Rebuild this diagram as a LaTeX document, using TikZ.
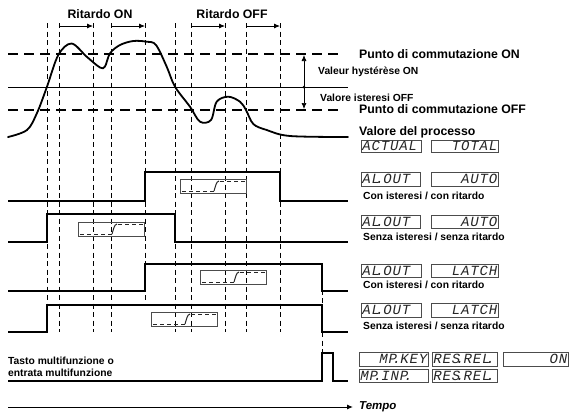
\documentclass[tikz,border=0pt]{standalone}
\usepackage{fontspec}
\setmainfont{Liberation Sans}
\newfontfamily\lcdfont[LetterSpace=6]{Liberation Mono}
\usetikzlibrary{arrows.meta}
\newcommand\lcdtext{\lcdfont\itshape\fontsize{14}{14}\selectfont\color{black!85}}
\newcommand\ld{\kern-0.3em.\kern-0.05em}
\tikzset{
  vdash/.style={line width=0.7pt, dash pattern=on 5pt off 3.5pt},
  hdash/.style={line width=1.1pt, dash pattern=on 10pt off 6pt},
  sig/.style={line width=1.8pt, line join=miter},
  curve/.style={line width=1.8pt, line join=round, line cap=round},
  sbox/.style={draw=gray!60!black, line width=0.7pt, inner sep=0pt, anchor=north west, minimum width=66pt, minimum height=14pt},
  sboxdash/.style={line width=1pt, dash pattern=on 4pt off 3pt, black!85},
  lcdbox/.style={draw=gray!60!black, line width=0.6pt, inner sep=1pt, anchor=north west, font=\lcdtext},
  biglabel/.style={font=\bfseries\fontsize{12.3}{14}\selectfont, inner sep=0pt},
  smalllabel/.style={font=\bfseries\fontsize{10.3}{12}\selectfont, inner sep=0pt},
  timearrow/.style={-{Latex[length=6pt,width=5pt]}, line width=0.8pt},
}
\newcommand\sigbox[3]{%
  \node[sbox] (#1) at (#2,#3) {};
  \draw[sboxdash] (#2+2,#3+12) -- (#2+34,#3+12);
  \draw[line width=1pt, black!85] (#2+34,#3+12) .. controls (#2+36,#3+6) and (#2+36,#3+3) .. (#2+39,#3+2);
  \draw[sboxdash] (#2+40,#3+2) -- (#2+65,#3+2);
}
\newcommand\lcd[7]{% name, x, y, width, height, align, text
  \node[lcdbox, minimum height=#5pt, text width=#4pt, align=#6] (#1) at (#2,#3) {#7};
}
\begin{document}
\begin{tikzpicture}[x=1pt,y=-1pt]
\useasboundingbox (0,0) rectangle (570,413);
\fill[white] (0,0) rectangle (570,413);

% vertical dashed lines
\foreach \x in {47,59,93,111,175,191,225,246,280}
  \draw[vdash] (\x,23) -- (\x,332);
\draw[vdash] (145,23) -- (145,300);
\draw[vdash] (322,264) -- (322,353);

% Ritardo arrows
\node[biglabel] (ron) at (100,14) {Ritardo ON};
\node[biglabel] (roff) at (232,14) {Ritardo OFF};
\coordinate (a1s) at (59,26);  \coordinate (a1e) at (93,26);
\coordinate (a2s) at (111,26); \coordinate (a2e) at (145,26);
\coordinate (a3s) at (191,26); \coordinate (a3e) at (225,26);
\coordinate (a4s) at (246,26); \coordinate (a4e) at (280,26);
\foreach \s/\e in {a1s/a1e,a2s/a2e,a3s/a3e,a4s/a4e}
  \draw[timearrow] (\s) -- (\e);

% threshold lines
\draw[hdash] (8,54) -- (343,54);
\draw[line width=0.9pt] (8,87) -- (348,87);
\draw[hdash] (8,110) -- (343,110);

% hysteresis arrow
\coordinate (htop) at (304,55);
\coordinate (hbot) at (304,109);
\draw[{Latex[length=6pt,width=5pt]}-{Latex[length=6pt,width=5pt]}, line width=0.7pt] (htop) -- (hbot);
\fill (304,87) circle (1.5pt);

% labels right
\node[biglabel, anchor=west] (pon) at (359,54) {Punto di commutazione ON};
\node[smalllabel, anchor=west] (vhon) at (318,72) {Valeur hystérèse ON};
\node[smalllabel, anchor=west] (vioff) at (320,98) {Valore isteresi OFF};
\node[biglabel, anchor=west] (poff) at (359,109) {Punto di commutazione OFF};
\node[biglabel, anchor=west] (vproc) at (359,132) {Valore del processo};

% process curve
\draw[curve] plot[smooth, tension=0.55] coordinates {
 (8,137) (27,130) (37,113) (47,86.7) (58.3,55) (71.5,43.5) (86.7,56.7) (100,67.5) (105,66.5)
 (110,53.3) (120,45) (133.3,41) (146.7,41.7) (156,45) (166.7,66.7) (175,86.7) (190,106.7)
 (200,121.7) (211,120) (216.7,101.7) (228.3,96.7) (240,101.7) (246,110) (253.3,124)
 (266.7,130) (290,136) (348,137)};

% signal rows
\draw[sig] (8,200.7) -- (145,200.7) -- (145,172.3) -- (280,172.3) -- (280,200.7) -- (348,200.7);
\draw[sig] (8,241.7) -- (47,241.7) -- (47,214) -- (175,214) -- (175,241.7) -- (348,241.7);
\draw[sig] (8,291) -- (145,291) -- (145,264) -- (322,264) -- (322,291) -- (348,291);
\draw[sig] (8,332.3) -- (47,332.3) -- (47,305) -- (322,305) -- (322,332.3) -- (348,332.3);
\draw[sig] (8,381) -- (322,381) -- (322,353) -- (333,353) -- (333,381) -- (348,381);

% boxes in signals
\sigbox{b1}{180}{179}
\sigbox{b2}{78}{222}
\sigbox{b3}{200}{270}
\sigbox{b4}{151}{312}

% LCD displays
\lcd{actual}{361}{140}{58}{11}{flush left}{ACTUAL}
\lcd{total}{431}{140}{65}{11}{flush right}{TOTAL}
\lcd{alout1}{361}{172}{57}{14}{flush left}{AL\ld OUT}
\lcd{auto1}{431}{172}{65}{14}{flush right}{AUTO}
\lcd{alout2}{361}{215}{57}{13}{flush left}{AL\ld OUT}
\lcd{auto2}{431}{215}{65}{13}{flush right}{AUTO}
\lcd{alout3}{361}{264}{58}{13}{flush left}{AL\ld OUT}
\lcd{latch3}{431}{264}{65}{13}{flush right}{LATCH}
\lcd{alout4}{361}{303}{58}{14}{flush left}{AL\ld OUT}
\lcd{latch4}{431}{303}{65}{14}{flush right}{LATCH}
\lcd{mpkey}{359}{352}{67}{14}{flush right}{MP\ld KEY}
\lcd{resrel1}{432}{352}{63}{14}{flush left}{RES\ld REL\ld}
\lcd{on}{503}{352}{63}{14}{flush right}{ON}
\lcd{mpinp}{359}{369}{67}{13}{flush left}{MP\ld INP\ld}
\lcd{resrel2}{432}{369}{63}{13}{flush left}{RES\ld REL\ld}

% captions
\node[smalllabel, anchor=west] (c1) at (363,196) {Con isteresi / con ritardo};
\node[smalllabel, anchor=west] (c2) at (363,237) {Senza isteresi / senza ritardo};
\node[smalllabel, anchor=west] (c3) at (363,285) {Con isteresi / con ritardo};
\node[smalllabel, anchor=west] (c4) at (363,326) {Senza isteresi / senza ritardo};
\node[smalllabel, anchor=west, align=left] (mf) at (8,367) {Tasto multifunzione o\\entrata multifunzione};

% time axis
\coordinate (t0) at (8,407);
\coordinate (t1) at (353,407);
\draw[timearrow, line width=1pt] (t0) -- (t1);
\node[font=\bfseries\itshape\fontsize{11.5}{13}\selectfont, anchor=west, inner sep=0pt] (tempo) at (359,407) {Tempo};
\end{tikzpicture}
\end{document}
